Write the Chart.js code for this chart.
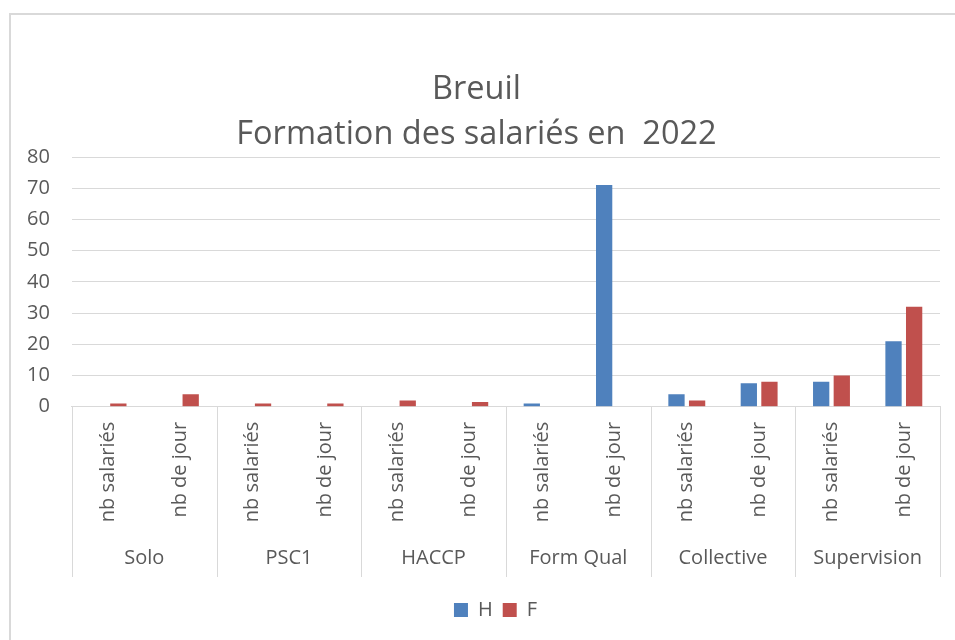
<!DOCTYPE html>
<html>
<head>
<meta charset="utf-8">
<script src="https://cdn.jsdelivr.net/npm/chart.js@4"></script>
<style>
  html, body { margin: 0; padding: 0; background: #fff; overflow: hidden; }
  #frame {
    position: absolute; left: 9px; top: 13px;
    width: 960px; height: 640px;
    border: 2px solid #d9d9d9;
  }
  #wrap {
    position: absolute; left: 0; top: 15px;
    width: 955px; height: 625px;
  }
</style>
</head>
<body>
<div id="frame"></div>
<div id="wrap"><canvas id="chart"></canvas></div>
<script>
// Breuil - formation des salariés 2022
const groups = ["Solo", "PSC1", "HACCP", "Form Qual", "Collective", "Supervision"];
const measures = ["nb salariés", "nb de jour"];

const valuesH = [0, 0, 0, 0, 0, 0, 1, 71, 4, 7.5, 8, 21];
const valuesF = [1, 4, 1, 1, 2, 1.5, 0, 0, 2, 8, 10, 32];

const yTicks = [0, 10, 20, 30, 40, 50, 60, 70, 80];

const labels = [];
groups.forEach(function () {
  measures.forEach(function (m) { labels.push(m); });
});

const FONT = "'Open Sans'";
const TEXT = "#595959";
const LINE = "#d9d9d9";
const GAP_BELOW = 11; // empty x2 title used as spacer before the legend

// vertical separators between the category groups, under the plot
const groupSeparators = {
  id: "groupSeparators",
  afterLayout: function (chart) {
    // excel centres legend / title on the whole frame, nudge them a bit
    chart.legend.left += 23;
    chart.legend.right += 23;
    chart.titleBlock.left += 4;
    chart.titleBlock.right += 4;
  },
  afterDraw: function (chart) {
    const x = chart.scales.x;
    const x2 = chart.scales.x2;
    const c = chart.ctx;
    const step = x2.width / groups.length;
    c.save();
    c.strokeStyle = LINE;
    c.lineWidth = 1;
    for (let i = 0; i <= groups.length; i++) {
      const px = Math.round(x2.left + i * step) + 0.5;
      c.beginPath();
      c.moveTo(px, x.top);
      c.lineTo(px, x2.bottom - GAP_BELOW - 2);
      c.stroke();
    }
    c.restore();
  },
};

const ctx = document.getElementById("chart");
new Chart(ctx, {
  type: "bar",
  data: {
    labels: labels,
    datasets: [
      {
        label: "H",
        data: valuesH,
        backgroundColor: "#4F81BD",
        barPercentage: 0.79,
        categoryPercentage: 0.57,
      },
      {
        label: "F",
        data: valuesF,
        backgroundColor: "#C0504D",
        barPercentage: 0.79,
        categoryPercentage: 0.57,
      },
    ],
  },
  options: {
    responsive: true,
    maintainAspectRatio: false,
    animation: false,
    layout: {
      padding: { left: 5, right: 15, top: 0, bottom: 10 },
    },
    plugins: {
      title: {
        display: true,
        text: ["Breuil", "Formation des salariés en  2022"],
        color: TEXT,
        font: { family: FONT, size: 32.5, weight: "normal", lineHeight: 1.385 },
        padding: { top: 52, bottom: 0 },
      },
      legend: {
        position: "bottom",
        labels: {
          color: TEXT,
          font: { family: FONT, size: 20 },
          boxWidth: 14,
          boxHeight: 14,
          padding: 10,
        },
      },
      tooltip: { enabled: false },
    },
    scales: {
      x: {
        type: "category",
        position: "bottom",
        grid: { display: false },
        border: { display: true, color: LINE, width: 1 },
        ticks: {
          color: TEXT,
          font: { family: FONT, size: 20 },
          minRotation: 90,
          maxRotation: 90,
          padding: 7,
          autoSkip: false,
        },
      },
      x2: {
        type: "category",
        position: "bottom",
        labels: groups,
        grid: { display: false },
        border: { display: false },
        title: {
          display: true,
          text: " ",
          font: { size: 9, lineHeight: 1.2 },
          padding: 0,
        },
        ticks: {
          color: TEXT,
          font: { family: FONT, size: 20 },
          padding: 9,
          autoSkip: false,
          maxRotation: 0,
        },
      },
      y: {
        min: 0,
        max: 80,
        afterBuildTicks: function (axis) {
          axis.ticks = yTicks.map(function (v) { return { value: v }; });
        },
        grid: { color: LINE, drawTicks: false },
        border: { display: false },
        ticks: {
          color: TEXT,
          font: { family: FONT, size: 20 },
          padding: 22,
        },
      },
    },
  },
  plugins: [groupSeparators],
});
</script>
</body>
</html>
